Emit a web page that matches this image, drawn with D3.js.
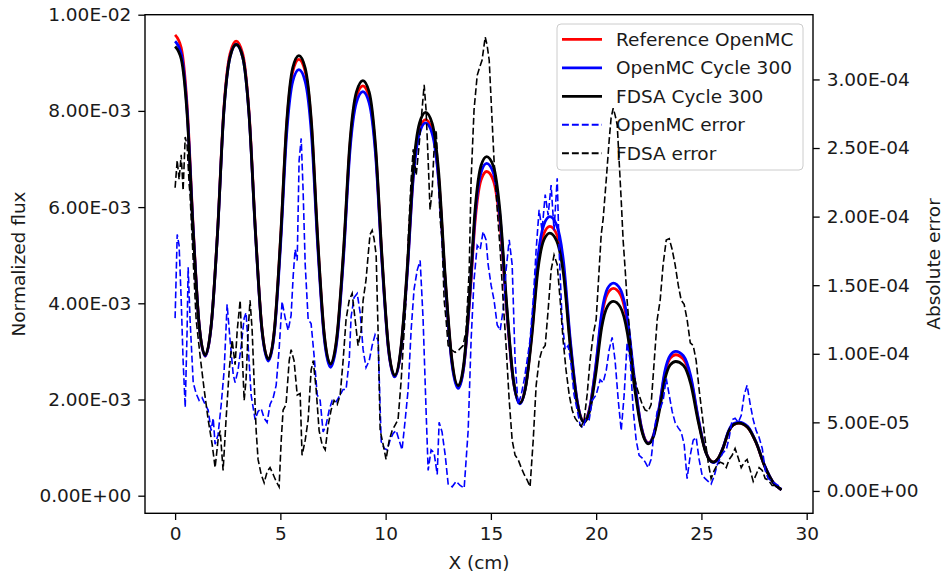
<!DOCTYPE html>
<html>
<head>
<meta charset="utf-8">
<script src="https://cdn.jsdelivr.net/npm/d3@7"></script>
<style>
  html, body { margin: 0; padding: 0; background: #fff; }
  svg { display: block; font-family: "DejaVu Sans", sans-serif; }
</style>
</head>
<body>
<svg id="chart" width="945" height="574"></svg>
<script>
// ---- Flux profiles (values in units of 1e-3) ----
const fluxX = [0, 0.29, 0.57, 0.86, 1.14, 1.43,
  1.72, 2.02, 2.31, 2.61, 2.9,
  3.21, 3.51, 3.82, 4.12, 4.43,
  4.72, 5.01, 5.30, 5.59, 5.88,
  6.18, 6.48, 6.78, 7.08, 7.38,
  7.69, 8.00, 8.30, 8.61, 8.92,
  9.22, 9.52, 9.83, 10.13, 10.43,
  10.72, 11.02, 11.31, 11.61, 11.9,
  12.21, 12.52, 12.83, 13.14, 13.45,
  13.72, 13.99, 14.26, 14.53, 14.8,
  15.12, 15.43, 15.75, 16.06, 16.38,
  16.66, 16.95, 17.23, 17.52, 17.8,
  18.12, 18.45, 18.77, 19.10, 19.42,
  19.70, 19.98, 20.26, 20.54, 20.82,
  21.15, 21.48, 21.82, 22.15, 22.48,
  22.74, 23.00, 23.26, 23.52, 23.78,
  24.14, 24.49, 24.85, 25.20, 25.56,
  25.80, 26.05, 26.29, 26.54, 26.78,
  27.2, 27.6, 28.0, 28.4, 28.8];

const fluxReference = [9.58, 9.31, 8.11, 5.57, 3.57, 2.90,
  3.56, 5.52, 8.01, 9.19, 9.45,
  9.19, 7.99, 5.48, 3.49, 2.83,
  3.45, 5.33, 7.70, 8.82, 9.07,
  8.82, 7.67, 5.25, 3.35, 2.71,
  3.29, 5.03, 7.24, 8.29, 8.52,
  8.28, 7.19, 4.90, 3.08, 2.48,
  3.01, 4.62, 6.65, 7.61, 7.82,
  7.60, 6.60, 4.48, 2.82, 2.26,
  2.71, 4.05, 5.75, 6.56, 6.74,
  6.55, 5.68, 3.85, 2.41, 1.93,
  2.30, 3.40, 4.79, 5.45, 5.60,
  5.44, 4.71, 3.18, 1.96, 1.56,
  1.84, 2.66, 3.71, 4.20, 4.31,
  4.18, 3.60, 2.38, 1.42, 1.10,
  1.28, 1.83, 2.53, 2.86, 2.93,
  2.84, 2.44, 1.59, 0.92, 0.70,
  0.78, 1.02, 1.33, 1.48, 1.51,
  1.42, 1.10, 0.62, 0.28, 0.12];

const fluxOpenMC = [9.45, 9.19, 8.01, 5.52, 3.56, 2.90,
  3.55, 5.49, 7.95, 9.12, 9.38,
  9.12, 7.93, 5.43, 3.46, 2.80,
  3.41, 5.22, 7.53, 8.62, 8.86,
  8.61, 7.50, 5.15, 3.29, 2.67,
  3.24, 4.96, 7.14, 8.17, 8.40,
  8.16, 7.10, 4.84, 3.06, 2.47,
  3.00, 4.58, 6.59, 7.54, 7.75,
  7.53, 6.54, 4.44, 2.78, 2.23,
  2.70, 4.10, 5.88, 6.72, 6.91,
  6.71, 5.81, 3.91, 2.41, 1.91,
  2.30, 3.47, 4.94, 5.64, 5.80,
  5.63, 4.86, 3.24, 1.97, 1.54,
  1.83, 2.69, 3.79, 4.31, 4.42,
  4.29, 3.69, 2.42, 1.42, 1.09,
  1.28, 1.85, 2.58, 2.92, 3.00,
  2.91, 2.49, 1.61, 0.92, 0.69,
  0.77, 1.03, 1.35, 1.50, 1.53,
  1.44, 1.11, 0.63, 0.28, 0.12];

const fluxFDSA = [9.34, 9.08, 7.93, 5.49, 3.56, 2.92,
  3.57, 5.50, 7.96, 9.12, 9.38,
  9.12, 7.94, 5.46, 3.49, 2.84,
  3.47, 5.36, 7.76, 8.90, 9.15,
  8.89, 7.74, 5.30, 3.38, 2.74,
  3.33, 5.10, 7.33, 8.39, 8.63,
  8.39, 7.28, 4.95, 3.11, 2.50,
  3.05, 4.69, 6.77, 7.75, 7.97,
  7.74, 6.72, 4.56, 2.86, 2.29,
  2.77, 4.19, 6.00, 6.86, 7.05,
  6.85, 5.92, 3.98, 2.44, 1.93,
  2.28, 3.34, 4.68, 5.32, 5.46,
  5.30, 4.60, 3.10, 1.92, 1.53,
  1.78, 2.53, 3.49, 3.94, 4.04,
  3.92, 3.39, 2.26, 1.38, 1.08,
  1.25, 1.76, 2.41, 2.72, 2.79,
  2.71, 2.33, 1.54, 0.91, 0.70,
  0.78, 1.02, 1.33, 1.48, 1.51,
  1.42, 1.10, 0.62, 0.28, 0.12];

// ---- Absolute errors (values in units of 1e-6) ----
const errOpenMCX = [0.00,0.10,0.19,0.29,0.38,0.48,0.57,0.62,0.71,0.86,
  1.00,1.14,1.28,1.43,1.57,1.71,1.81,1.90,2.04,2.19,
  2.33,2.47,2.61,2.76,2.85,2.99,3.14,3.28,3.37,3.47,
  3.61,3.80,3.94,4.09,4.23,4.37,4.51,4.66,4.80,4.94,
  5.08,5.23,5.37,5.51,5.61,5.70,5.80,5.89,5.99,6.08,
  6.18,6.32,6.46,6.60,6.75,6.89,7.03,7.17,7.32,7.46,
  7.65,7.84,7.98,8.12,8.27,8.36,8.50,8.65,8.79,8.93,
  9.07,9.22,9.36,9.50,9.64,9.79,9.93,10.07,10.21,10.36,
  10.50,10.64,10.78,10.93,11.07,11.21,11.35,11.50,11.64,11.78,
  11.92,12.02,12.16,12.30,12.45,12.54,12.68,12.83,12.97,13.16,
  13.35,13.54,13.73,13.92,14.06,14.20,14.35,14.49,14.63,14.77,
  14.87,15.01,15.15,15.30,15.44,15.58,15.72,15.87,16.01,16.15,
  16.29,16.44,16.58,16.72,16.86,17.01,17.15,17.29,17.43,17.58,
  17.72,17.86,18.00,18.15,18.24,18.38,18.53,18.67,18.81,18.95,
  19.10,19.24,19.38,19.52,19.67,19.81,20.00,20.19,20.33,20.48,
  20.62,20.76,20.90,21.05,21.19,21.33,21.47,21.62,21.76,21.90,
  22.04,22.19,22.33,22.47,22.61,22.76,22.90,23.04,23.18,23.33,
  23.47,23.61,23.75,23.90,24.04,24.18,24.32,24.47,24.61,24.75,
  24.89,25.04,25.18,25.32,25.46,25.61,25.75,25.89,26.03,26.18,
  26.32,26.46,26.60,26.75,26.89,27.03,27.17,27.32,27.46,27.60,
  27.74,27.89,28.03,28.17,28.36,28.55,28.74,28.80];

const errOpenMC = [126,187,179,139,95,61,117,163,125,79,
  71,66,68,63,59,44,53,34,41,63,
  88,136,110,85,79,88,106,126,130,106,
  70,52,58,60,53,50,63,68,77,103,
  138,126,117,128,157,176,168,241,257,219,
  165,125,122,99,70,66,43,48,59,66,
  65,70,74,74,95,127,141,144,130,103,
  90,95,106,114,110,36,31,30,37,42,
  44,37,30,52,74,117,147,161,168,125,
  59,15,30,28,12,50,43,26,5,3,
  7,4,2,44,110,154,179,176,189,183,
  165,150,139,121,117,132,161,183,165,95,
  63,70,81,95,110,139,176,205,190,216,
  201,223,190,228,176,125,103,106,92,70,
  59,48,46,53,52,66,70,81,79,88,
  103,112,95,66,44,70,108,95,59,37,
  26,24,21,17,23,44,58,60,66,82,
  70,58,50,46,43,34,9,26,37,39,
  23,11,9,7,5,11,19,24,28,30,
  39,52,53,50,55,70,77,63,52,44,
  39,31,15,9,7,5,3,2];

const errFdsaX = [0.00,0.10,0.19,0.29,0.38,0.48,0.57,0.67,0.71,0.86,
  1.00,1.19,1.38,1.57,1.76,1.90,2.04,2.14,2.28,2.42,
  2.57,2.71,2.85,2.95,3.09,3.18,3.28,3.37,3.47,3.56,
  3.66,3.75,3.85,3.94,4.09,4.23,4.37,4.51,4.66,4.80,
  4.94,5.04,5.13,5.27,5.42,5.51,5.65,5.80,5.94,6.03,
  6.18,6.32,6.46,6.56,6.70,6.84,6.98,7.13,7.27,7.41,
  7.55,7.70,7.84,7.98,8.12,8.27,8.41,8.55,8.69,8.84,
  8.93,9.07,9.17,9.26,9.36,9.45,9.55,9.64,9.74,9.88,
  10.02,10.17,10.31,10.45,10.59,10.74,10.88,10.97,11.07,11.21,
  11.31,11.45,11.59,11.73,11.83,11.92,12.02,12.11,12.21,12.30,
  12.40,12.49,12.59,12.68,12.78,12.87,12.97,13.11,13.30,13.49,
  13.68,13.82,13.97,14.06,14.20,14.35,14.49,14.58,14.73,14.82,
  14.92,15.01,15.15,15.30,15.44,15.58,15.72,15.87,16.01,16.15,
  16.29,16.44,16.58,16.72,16.86,17.01,17.15,17.29,17.43,17.58,
  17.72,17.86,18.00,18.15,18.29,18.43,18.57,18.72,18.86,19.00,
  19.14,19.29,19.43,19.57,19.71,19.86,20.00,20.14,20.24,20.33,
  20.48,20.62,20.71,20.81,20.90,21.00,21.09,21.19,21.28,21.38,
  21.47,21.62,21.76,21.90,22.04,22.19,22.33,22.47,22.61,22.76,
  22.90,23.04,23.18,23.33,23.47,23.61,23.75,23.90,24.04,24.18,
  24.32,24.47,24.61,24.75,24.89,25.04,25.18,25.32,25.46,25.61,
  25.75,25.89,26.03,26.18,26.32,26.46,26.60,26.75,26.89,27.03,
  27.17,27.32,27.46,27.60,27.74,27.89,28.03,28.17,28.36,28.55,
  28.74,28.80];

const errFdsa = [221,241,227,245,219,258,252,223,216,168,
  125,98,74,52,34,17,37,44,15,52,
  88,110,92,117,139,103,66,81,117,139,
  117,81,44,23,12,6,14,17,12,7,
  3,37,59,63,95,103,95,70,71,26,
  37,52,88,95,74,44,34,30,48,59,
  66,63,70,95,125,139,144,125,106,117,
  139,154,172,187,190,184,172,117,44,34,
  23,37,44,48,52,81,117,139,183,227,
  249,230,252,278,296,278,241,205,219,249,
  263,234,198,183,139,125,106,103,101,103,
  106,117,161,227,278,303,310,314,331,325,
  314,285,241,205,176,139,106,66,37,26,
  23,17,12,8,3,37,77,95,103,106,
  132,161,172,165,139,110,88,70,59,53,
  50,47,52,70,95,114,125,161,187,198,
  227,256,272,279,274,267,241,212,183,161,
  139,110,88,77,70,63,59,58,63,95,
  125,139,165,183,184,176,165,150,139,136,
  125,108,106,95,74,55,37,21,9,15,
  19,21,20,17,23,26,31,24,17,21,
  23,15,7,12,17,15,9,8,4,4,
  2,1];

// ---- Axis ticks ----
const xTicks = [0, 5, 10, 15, 20, 25, 30];
const fluxTicks = [0, 2, 4, 6, 8, 10];          // x 1e-3
const errTicks = [0, 50, 100, 150, 200, 250, 300]; // x 1e-6

const legendItems = [
  { label: "Reference OpenMC", color: "#ff0000", dashed: false },
  { label: "OpenMC Cycle 300", color: "#0000ff", dashed: false },
  { label: "FDSA Cycle 300", color: "#000000", dashed: false },
  { label: "OpenMC error", color: "#0000ff", dashed: true },
  { label: "FDSA error", color: "#000000", dashed: true }
];

// ---- Layout ----
const plot = { left: 145, right: 813, top: 14.7, bottom: 513.3 };
const fontSize = 18.5;
const textColor = "#1a1a1a";

const x = d3.scaleLinear().domain([-1.43, 30.3]).range([plot.left, plot.right]);
const yFlux = d3.scaleLinear().domain([-0.366, 10.0]).range([plot.bottom, plot.top]);
const yErr = d3.scaleLinear().domain([-16.3, 347.2]).range([plot.bottom, plot.top]);

// Scientific label in the style 1.00E-02
function sciLabel(v) {
  const s = v.toExponential(2);
  const [mant, ex] = s.split("e");
  const n = parseInt(ex, 10);
  const sign = n < 0 ? "-" : "+";
  return mant + "E" + sign + String(Math.abs(n)).padStart(2, "0");
}

const svg = d3.select("#chart");

svg.append("defs").append("clipPath").attr("id", "plotClip")
  .append("rect")
  .attr("x", plot.left).attr("y", plot.top)
  .attr("width", plot.right - plot.left).attr("height", plot.bottom - plot.top);

// ---- Flux curves ----
const fluxLine = d3.line()
  .x(d => x(d[0]))
  .y(d => yFlux(d[1]))
  .curve(d3.curveMonotoneX);

const fluxSeries = [
  { values: fluxReference, color: "#ff0000" },
  { values: fluxOpenMC, color: "#0000ff" },
  { values: fluxFDSA, color: "#000000" }
];

const gFlux = svg.append("g").attr("clip-path", "url(#plotClip)");
fluxSeries.forEach(s => {
  gFlux.append("path")
    .datum(d3.zip(fluxX, s.values))
    .attr("d", fluxLine)
    .attr("fill", "none")
    .attr("stroke", s.color)
    .attr("stroke-width", 2.8)
    .attr("stroke-linejoin", "round")
    .attr("stroke-linecap", "butt");
});

// ---- Legend ----
const legend = svg.append("g");
const lgX = 557, lgY = 24, lgW = 246, lgH = 146;
legend.append("rect")
  .attr("x", lgX).attr("y", lgY).attr("width", lgW).attr("height", lgH)
  .attr("rx", 4).attr("ry", 4)
  .attr("fill", "#ffffff").attr("fill-opacity", 0.8)
  .attr("stroke", "#cccccc").attr("stroke-width", 1);

const rowY = d3.scaleLinear().domain([0, 4]).range([39.3, 153.3]);
legendItems.forEach((it, i) => {
  const yy = rowY(i);
  legend.append("line")
    .attr("x1", 562).attr("x2", 602).attr("y1", yy).attr("y2", yy)
    .attr("stroke", it.color)
    .attr("stroke-width", it.dashed ? 1.9 : 2.8)
    .attr("stroke-dasharray", it.dashed ? "6.9,3" : null);
  legend.append("text")
    .attr("x", 616).attr("y", yy)
    .attr("dy", "0.36em")
    .attr("font-size", fontSize)
    .attr("fill", textColor)
    .text(it.label);
});

// ---- Error curves (right axis) ----
const errLine = d3.line()
  .x(d => x(d[0]))
  .y(d => yErr(d[1]));

const errSeries = [
  { xs: errOpenMCX, values: errOpenMC, color: "#0000ff" },
  { xs: errFdsaX, values: errFdsa, color: "#000000" }
];

const gErr = svg.append("g").attr("clip-path", "url(#plotClip)");
errSeries.forEach(s => {
  gErr.append("path")
    .datum(d3.zip(s.xs, s.values))
    .attr("d", errLine)
    .attr("fill", "none")
    .attr("stroke", s.color)
    .attr("stroke-width", 1.6)
    .attr("stroke-dasharray", "6.9,3")
    .attr("stroke-linejoin", "miter");
});

// ---- Axes ----
function styleAxis(g) {
  g.select(".domain").remove();
  g.selectAll(".tick line").attr("stroke", "#000").attr("stroke-width", 1.3);
  g.selectAll(".tick text")
    .attr("font-size", fontSize)
    .attr("font-family", "DejaVu Sans, sans-serif")
    .attr("fill", textColor);
}

svg.append("g")
  .attr("transform", `translate(0,${plot.bottom})`)
  .call(d3.axisBottom(x).tickValues(xTicks).tickFormat(d3.format("d"))
    .tickSize(6.7).tickPadding(7))
  .call(styleAxis);

svg.append("g")
  .attr("transform", `translate(${plot.left},0)`)
  .call(d3.axisLeft(yFlux).tickValues(fluxTicks).tickFormat(d => sciLabel(d * 1e-3))
    .tickSize(6.7).tickPadding(7))
  .call(styleAxis);

svg.append("g")
  .attr("transform", `translate(${plot.right},0)`)
  .call(d3.axisRight(yErr).tickValues(errTicks).tickFormat(d => sciLabel(d * 1e-6))
    .tickSize(6.7).tickPadding(7))
  .call(styleAxis);

// Frame
svg.append("rect")
  .attr("x", plot.left).attr("y", plot.top)
  .attr("width", plot.right - plot.left).attr("height", plot.bottom - plot.top)
  .attr("fill", "none").attr("stroke", "#000").attr("stroke-width", 1.4);

// ---- Axis titles ----
svg.append("text")
  .attr("x", (plot.left + plot.right) / 2).attr("y", 569)
  .attr("text-anchor", "middle")
  .attr("font-size", fontSize).attr("fill", textColor)
  .text("X (cm)");

svg.append("text")
  .attr("transform", `translate(25,${(plot.top + plot.bottom) / 2}) rotate(-90)`)
  .attr("text-anchor", "middle")
  .attr("font-size", fontSize).attr("fill", textColor)
  .text("Normalized flux");

svg.append("text")
  .attr("transform", `translate(940,${(plot.top + plot.bottom) / 2}) rotate(-90)`)
  .attr("text-anchor", "middle")
  .attr("font-size", fontSize).attr("fill", textColor)
  .text("Absolute error");
</script>
</body>
</html>
